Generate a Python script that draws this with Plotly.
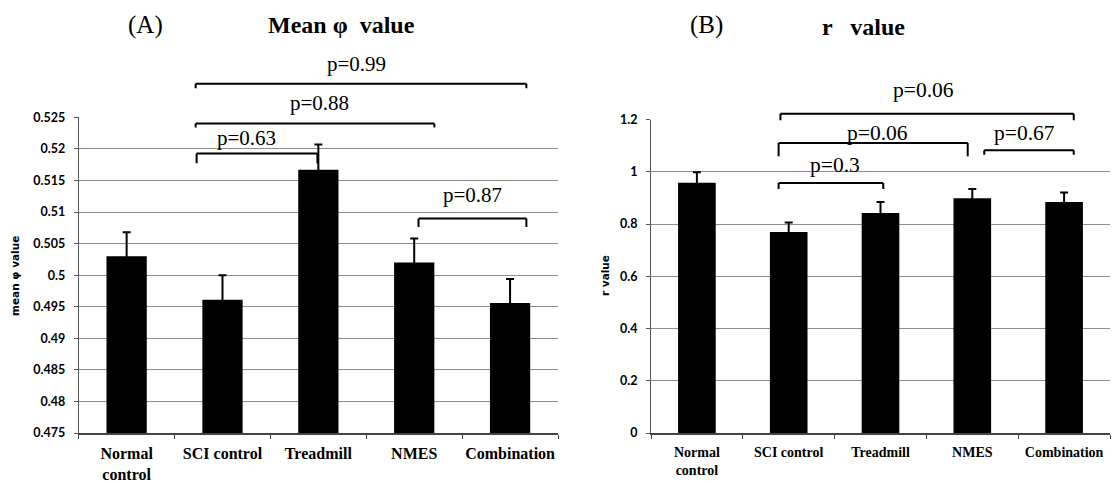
import plotly.graph_objects as go

# Groups shared by both panels
groups = ["Normal<br>control", "SCI control", "Treadmill", "NMES", "Combination"]

# Panel A: mean phi value (mean and SE)
phi_mean = [0.5030, 0.4961, 0.5167, 0.5020, 0.4956]
phi_err = [0.0038, 0.0039, 0.0040, 0.0038, 0.0038]
phi_ticks = [0.475, 0.48, 0.485, 0.49, 0.495, 0.5, 0.505, 0.51, 0.515, 0.52, 0.525]

# Panel B: r value (mean and SE)
r_mean = [0.958, 0.769, 0.842, 0.899, 0.884]
r_err = [0.040, 0.037, 0.042, 0.035, 0.037]
r_ticks = [0, 0.2, 0.4, 0.6, 0.8, 1.0, 1.2]

# Comparison brackets: label, left/right group position, bar level, end level,
# label x position, label level
phi_brackets = [
    ("p=0.99", 0.72, 4.17, 0.5303, 0.5296, 2.40, 0.5335),
    ("p=0.88", 0.72, 3.21, 0.5240, 0.5234, 2.01, 0.5272),
    ("p=0.63", 0.73, 1.99, 0.51926, 0.51772, 1.25, 0.5217),
    ("p=0.87", 3.045, 4.17, 0.50897, 0.50764, 3.61, 0.51266),
]
r_brackets = [
    ("p=0.06", 0.91, 4.105, 1.222, 1.197, 2.47, 1.314),
    ("p=0.06", 0.89, 2.95, 1.110, 1.059, 1.965, 1.149),
    ("p=0.67", 3.13, 4.105, 1.082, 1.065, 3.57, 1.149),
    ("p=0.3", 0.89, 2.03, 0.957, 0.934, 1.50, 1.027),
]

W, H = 1112, 484
xdom_a = [78.7 / W, 558 / W]
xdom_b = [651 / W, 1110 / W]
ydom_a = [(H - 433) / H, (H - 117.3) / H]
ydom_b = [(H - 433) / H, (H - 119.5) / H]
yrng_a = [0.475, 0.525]
yrng_b = [0, 1.2]

SERIF = "Liberation Serif"
SANS = "Lato"


def to_paper(v, rng, dom):
    return dom[0] + (v - rng[0]) / (rng[1] - rng[0]) * (dom[1] - dom[0])


fig = go.Figure()

fig.add_trace(go.Bar(
    x=groups, y=phi_mean, width=0.42, marker_color="black",
    marker_line_width=0,
    error_y=dict(type="data", array=phi_err, color="black", thickness=2, width=4),
    xaxis="x", yaxis="y", showlegend=False,
))
fig.add_trace(go.Bar(
    x=groups, y=r_mean, width=0.41, marker_color="black",
    marker_line_width=0,
    error_y=dict(type="data", array=r_err, color="black", thickness=2, width=4),
    xaxis="x2", yaxis="y2", showlegend=False,
))

shapes = []
annotations = []


def add_brackets(items, xref, rng, dom, size):
    for label, x0, x1, top, end, tx, ty in items:
        yt = to_paper(top, rng, dom)
        ye = to_paper(end, rng, dom)
        line = dict(color="black", width=2)
        shapes.append(dict(type="line", xref=xref, yref="paper",
                           x0=x0, x1=x1, y0=yt, y1=yt, line=line))
        shapes.append(dict(type="line", xref=xref, yref="paper",
                           x0=x0, x1=x0, y0=yt, y1=ye, line=line))
        shapes.append(dict(type="line", xref=xref, yref="paper",
                           x0=x1, x1=x1, y0=yt, y1=ye, line=line))
        annotations.append(dict(text=label, xref=xref, yref="paper",
                                x=tx, y=to_paper(ty, rng, dom),
                                xanchor="center", yanchor="middle",
                                showarrow=False,
                                font=dict(family=SERIF, size=size, color="black")))


add_brackets(phi_brackets, "x", yrng_a, ydom_a, 21)
add_brackets(r_brackets, "x2", yrng_b, ydom_b, 21.5)

# Panel letters and titles
for txt, x, y, size in [
    ("(A)", 145, 25, 25),
    ("<b>Mean φ  value</b>", 341, 25, 24),
    ("(B)", 706.7, 25, 25),
    ("<b>r   value</b>", 863, 27, 24),
]:
    annotations.append(dict(text=txt, xref="paper", yref="paper",
                            x=x / W, y=(H - y) / H, xanchor="center",
                            yanchor="middle", showarrow=False,
                            font=dict(family=SERIF, size=size, color="black")))

# Axis titles
annotations.append(dict(text="<b>mean φ value</b>", xref="paper", yref="paper",
                        x=15 / W, y=(H - 276) / H, textangle=-90,
                        xanchor="center", yanchor="middle", showarrow=False,
                        font=dict(family="DejaVu Sans", size=10.5, color="black")))
annotations.append(dict(text="<b>r value</b>", xref="paper", yref="paper",
                        x=605 / W, y=(H - 275) / H, textangle=-90,
                        xanchor="center", yanchor="middle", showarrow=False,
                        font=dict(family="DejaVu Sans", size=10.5, color="black")))

xcommon = dict(
    type="category", range=[-0.5, 4.5], showgrid=False, showline=True,
    linecolor="#444", linewidth=1.5, ticks="outside", tickson="boundaries",
    ticklen=4, tickcolor="#444", automargin=False, fixedrange=True,
    ticklabelstandoff=5, tickangle=0,
)
ycommon = dict(
    showgrid=True, gridcolor="#8c8c8c", gridwidth=1, showline=True,
    linecolor="#555", linewidth=1, ticks="outside", ticklen=4,
    tickcolor="#555", zeroline=False, automargin=False,
    tickfont=dict(family=SANS, size=12.5, color="black", weight="bold"),
    ticklabelstandoff=6,
)

fig.update_layout(
    width=W, height=H,
    margin=dict(l=0, r=0, t=0, b=0),
    paper_bgcolor="white", plot_bgcolor="white",
    xaxis=dict(domain=xdom_a, anchor="y",
               tickfont=dict(family=SERIF, size=16, color="black", weight="bold"),
               **xcommon),
    yaxis=dict(domain=ydom_a, anchor="x", range=yrng_a, tickvals=phi_ticks,
               ticktext=[f"{v:g}" for v in phi_ticks], **ycommon),
    xaxis2=dict(domain=xdom_b, anchor="y2",
                tickfont=dict(family=SERIF, size=14, color="black", weight="bold"),
                **xcommon),
    yaxis2=dict(domain=ydom_b, anchor="x2", range=yrng_b, tickvals=r_ticks,
                ticktext=[f"{v:g}" for v in r_ticks], **ycommon),
    shapes=shapes,
    annotations=annotations,
    showlegend=False,
)

fig.write_html("out.html")
